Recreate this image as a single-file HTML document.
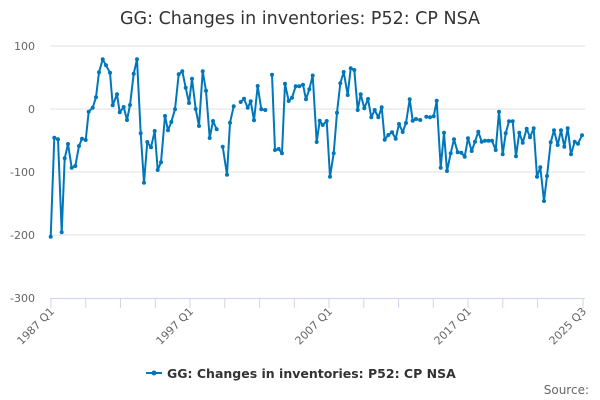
<!DOCTYPE html>
<html><head><meta charset="utf-8"><style>
html,body{margin:0;padding:0;background:#fff;width:600px;height:400px;overflow:hidden}
text{font-family:"DejaVu Sans","Liberation Sans",sans-serif}
</style></head><body>
<svg width="600" height="400" viewBox="0 0 600 400" xmlns="http://www.w3.org/2000/svg">
<text x="300" y="24" text-anchor="middle" font-size="17.5" fill="#333">GG: Changes in inventories: P52: CP NSA</text>
<g stroke="#e0e0e0" stroke-width="1">
<line x1="50" y1="46" x2="585" y2="46"/>
<line x1="50" y1="109" x2="585" y2="109"/>
<line x1="50" y1="172" x2="585" y2="172"/>
<line x1="50" y1="235" x2="585" y2="235"/>
</g>
<line x1="50" y1="298.5" x2="585" y2="298.5" stroke="#ccd6eb" stroke-width="1"/>
<g stroke="#ccd6eb" stroke-width="1">
<line x1="51" y1="298" x2="51" y2="308"/><line x1="85.8" y1="298" x2="85.8" y2="308"/><line x1="120.5" y1="298" x2="120.5" y2="308"/><line x1="155.3" y1="298" x2="155.3" y2="308"/><line x1="190" y1="298" x2="190" y2="308"/><line x1="224.8" y1="298" x2="224.8" y2="308"/><line x1="259.6" y1="298" x2="259.6" y2="308"/><line x1="294.3" y1="298" x2="294.3" y2="308"/><line x1="329" y1="298" x2="329" y2="308"/><line x1="363.8" y1="298" x2="363.8" y2="308"/><line x1="398.6" y1="298" x2="398.6" y2="308"/><line x1="433.3" y1="298" x2="433.3" y2="308"/><line x1="468" y1="298" x2="468" y2="308"/><line x1="502.8" y1="298" x2="502.8" y2="308"/><line x1="537.6" y1="298" x2="537.6" y2="308"/><line x1="583" y1="298" x2="583" y2="308"/>
</g>
<g font-size="11" fill="#666" text-anchor="end">
<text x="35" y="50">100</text><text x="35" y="113">0</text><text x="35" y="176">-100</text><text x="35" y="239">-200</text><text x="35" y="302">-300</text>
</g>
<g font-size="11" fill="#666" text-anchor="end">
<text transform="translate(55,312) rotate(-45)">1987 Q1</text>
<text transform="translate(194,312) rotate(-45)">1997 Q1</text>
<text transform="translate(333,312) rotate(-45)">2007 Q1</text>
<text transform="translate(472,312) rotate(-45)">2017 Q1</text>
<text transform="translate(587,312) rotate(-45)">2025 Q3</text>
</g>
<g fill="none" stroke="#0077bb" stroke-width="2" stroke-linejoin="round">
<polyline points="50.7,236.7 54.3,137.7 58,139.3 61.7,232.3 64.7,158.3 68,144 71.7,167.7 75.3,166 79,146 82,138.7 85.7,140 88.7,111.7 92.7,107.7 96,97.3 99,72.3 102.7,59.3 106,65.3 110,72.7 112.7,105.3 117,94.3 119.7,112.3 123.7,107 127,120 130,105 133.7,73.7 137,59.3 140.7,133.3 144,182.7 147.3,142 151,147.3 154.7,131 157.7,170 161,162.3 165,116 168,130.3 171.3,122 175,109.3 178.7,74.3 182.3,71.3 185.7,87.7 189,103 192,78.7 195.7,109 199,126 202.7,71.3 206,90.7 209.7,138 213,121 216.7,129.3"/>
<polyline points="222.7,146.7 227,174.7 230,122.7 233.7,106.3"/>
<polyline points="240.7,102 244,98.7 247.7,107.7 250.7,101.3 254,120.3 257.7,86 261.3,109.3 265.3,110"/>
<polyline points="272,74.7 275,150 278.7,149 282,153.3 285,83.7 288.7,101 292,97.7 295.7,86.3 299.3,86.3 303,84.7 306,99.3 309.3,89.3 312.7,75.5 316.7,142 319.7,120.7 322.7,125 326.7,121 330,176.7 333.7,153.3 337,112.7 340.3,83.3 343.7,72 347.7,95 350.7,68.3 354.3,70 357.7,110 360.7,94.3 364.3,108.3 368,99 371.3,117.3 374.7,110 378.3,117.3 381.7,107.3 384.7,139.7 388.3,135 392,132.3 395.7,138.7 399,124 402.7,132 406,123 409.7,99.3 412.7,120.7 416,119 420.3,120"/>
<polyline points="426.3,116.7 430,117.3 433.7,116.3 436.7,100.7 440.7,167.7 444,132.7 447,171 450.7,153.3 454,139.3 457.7,152.3 461.3,152.7 464.7,156.7 468,138.3 471.7,151 475,141.7 478.3,131.7 481.7,141.7 485,140.7 488.5,140.7 492,140.7 495.7,150 499,111.7 502.7,154.3 505.7,133.3 509,121.3 512.7,121.3 516,156.3 519.3,132.7 522.7,142.7 526.7,128.7 530,137.3 533.7,128.3 537,176.7 540.3,167.3 544,201 547,176 550.7,142.3 554,130.3 557.7,145 561,130.3 564.3,146.7 567.7,128.3 571,154.3 574.7,141.7 578,143.7 582,135.3"/>
</g>
<g fill="#0077bb" id="dots"></g>
<line x1="146" y1="373" x2="162" y2="373" stroke="#0077bb" stroke-width="2"/>
<circle cx="154" cy="373" r="2.5" fill="#0077bb"/>
<text x="167" y="378" font-size="12.5" font-weight="bold" fill="#333">GG: Changes in inventories: P52: CP NSA</text>
<text x="589" y="394" font-size="12" fill="#666" text-anchor="end">Source:</text>
<script>
var g=document.getElementById('dots');
document.querySelectorAll('polyline').forEach(function(p){
p.getAttribute('points').trim().split(/\s+/).forEach(function(s){var a=s.split(',');
var c=document.createElementNS('http://www.w3.org/2000/svg','circle');c.setAttribute('cx',a[0]);c.setAttribute('cy',a[1]);c.setAttribute('r','2');g.appendChild(c);});});
</script>
</svg>
</body></html>
